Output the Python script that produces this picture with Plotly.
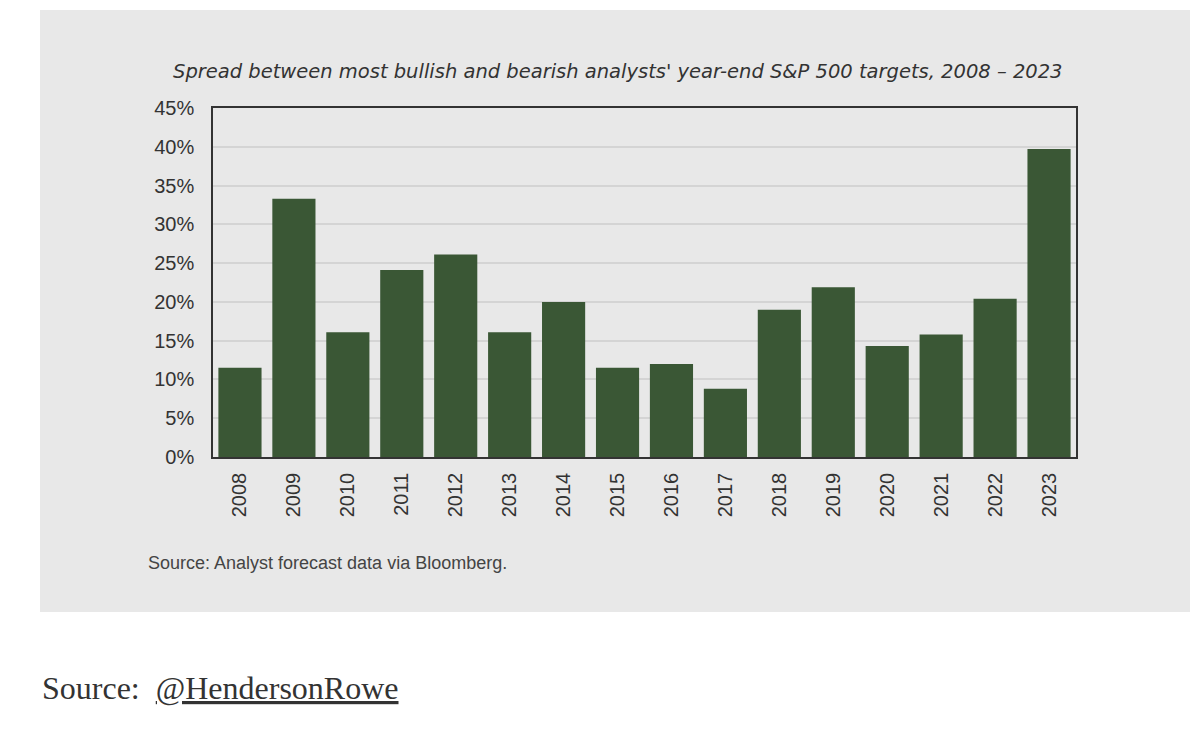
import plotly.graph_objects as go

years = ["2008", "2009", "2010", "2011", "2012", "2013", "2014", "2015",
         "2016", "2017", "2018", "2019", "2020", "2021", "2022", "2023"]
spread = [0.115, 0.333, 0.161, 0.241, 0.261, 0.161, 0.200, 0.115,
          0.120, 0.088, 0.190, 0.219, 0.143, 0.158, 0.204, 0.397]

title = "Spread between most bullish and bearish analysts' year-end S&P 500 targets, 2008 \u2013 2023"
chart_source = "Source: Analyst forecast data via Bloomberg."
page_source = "Source:  <u>@HendersonRowe</u>"

# page has an 8px body margin, so the figure is drawn 8px in from the window
OFF = 8
W, H = 1200 - 2 * OFF, 729 - 2 * OFF
L, R, T, B = 213 - OFF, 124 - OFF, 108 - OFF, 272 - OFF
pw, ph = W - L - R, H - T - B


def px(x):
    # window pixel -> paper x
    return (x - OFF - L) / pw


def py(y):
    # window pixel -> paper y
    return (H - B - (y - OFF)) / ph


fig = go.Figure(go.Bar(
    x=years, y=spread,
    marker=dict(color="#3a5735", line=dict(width=0)),
    width=0.8,
))

# grey card behind the chart
fig.add_shape(type="rect", xref="paper", yref="paper",
              x0=px(40), x1=px(1190), y0=py(612), y1=py(10),
              fillcolor="#e8e8e8", line=dict(width=0), layer="below")

fig.add_annotation(text="<i>" + title + "</i>", xref="paper", yref="paper",
                   x=px(618), y=py(72), yanchor="middle", showarrow=False,
                   font=dict(size=19.5, color="#333333", family="DejaVu Sans"))
fig.add_annotation(text=chart_source, xref="paper", yref="paper",
                   x=px(146), y=py(563), xanchor="left", yanchor="middle",
                   showarrow=False,
                   font=dict(size=18, color="#444444", family="Liberation Sans"))
fig.add_annotation(text=page_source, xref="paper", yref="paper",
                   x=px(40), y=py(688), xanchor="left", yanchor="middle",
                   showarrow=False,
                   font=dict(size=32, color="#333333", family="Liberation Serif"))

fig.update_layout(
    width=W, height=H,
    margin=dict(l=L, r=R, t=T, b=B),
    paper_bgcolor="white", plot_bgcolor="white",
    showlegend=False,
    font=dict(family="Liberation Sans", color="#333333"),
    bargap=0.2,
)
fig.update_xaxes(showline=True, mirror=True, linecolor="#333333", linewidth=1.5,
                 tickangle=-90, tickfont=dict(size=20), ticks="", showgrid=False,
                 ticklabelstandoff=6)
fig.update_yaxes(range=[0, 0.45], dtick=0.05, tickformat=".0%",
                 showline=True, mirror=True, linecolor="#333333", linewidth=1.5,
                 gridcolor="#d4d4d4", gridwidth=1.5, tickfont=dict(size=20),
                 ticks="", zeroline=False, ticklabelstandoff=13)

fig.write_html("out.html")
